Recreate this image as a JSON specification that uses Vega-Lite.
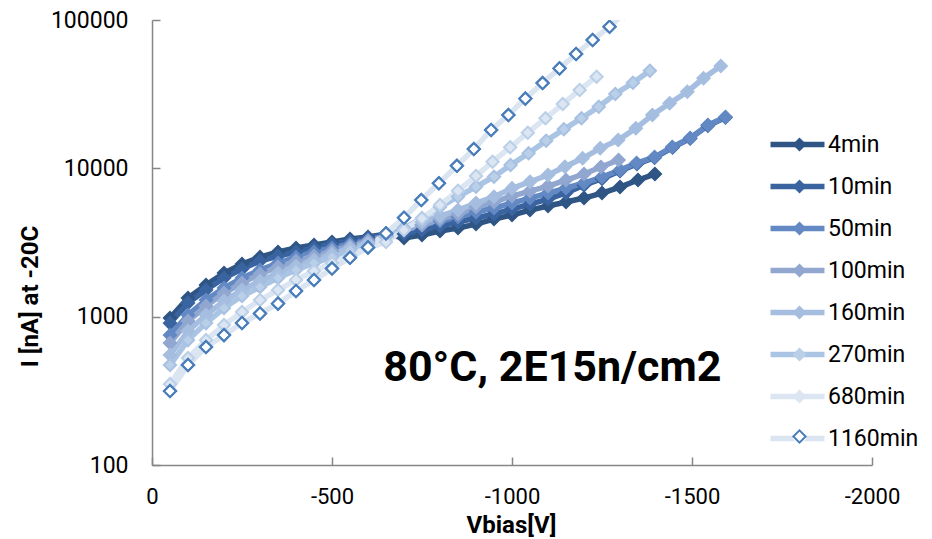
{
  "$schema": "https://vega.github.io/schema/vega-lite/v6.json",
  "width": 720,
  "height": 445,
  "autosize": {"type": "none"},
  "padding": {"left": 152, "top": 20, "right": 60, "bottom": 74},
  "background": "white",
  "config": {"view": {"stroke": null}, "font": "Roboto"},
  "data": {"values": [
    {"s":"4min","V":-50,"I":979},{"s":"4min","V":-100,"I":1335},{"s":"4min","V":-150,"I":1634},{"s":"4min","V":-200,"I":1968},{"s":"4min","V":-250,"I":2263},{"s":"4min","V":-300,"I":2523},{"s":"4min","V":-350,"I":2727},{"s":"4min","V":-400,"I":2901},{"s":"4min","V":-450,"I":3040},{"s":"4min","V":-500,"I":3184},{"s":"4min","V":-550,"I":3336},{"s":"4min","V":-600,"I":3441},{"s":"4min","V":-650,"I":3606},{"s":"4min","V":-700,"I":3388},{"s":"4min","V":-750,"I":3550},{"s":"4min","V":-800,"I":3778},{"s":"4min","V":-850,"I":3958},{"s":"4min","V":-900,"I":4210},{"s":"4min","V":-950,"I":4550},{"s":"4min","V":-1000,"I":4843},{"s":"4min","V":-1050,"I":5233},{"s":"4min","V":-1100,"I":5569},{"s":"4min","V":-1150,"I":5925},{"s":"4min","V":-1200,"I":6305},{"s":"4min","V":-1250,"I":6814},{"s":"4min","V":-1300,"I":7478},{"s":"4min","V":-1350,"I":8340},{"s":"4min","V":-1397,"I":9153},
    {"s":"10min","V":-50,"I":905},{"s":"10min","V":-100,"I":1235},{"s":"10min","V":-150,"I":1511},{"s":"10min","V":-200,"I":1821},{"s":"10min","V":-250,"I":2094},{"s":"10min","V":-300,"I":2371},{"s":"10min","V":-350,"I":2563},{"s":"10min","V":-400,"I":2727},{"s":"10min","V":-450,"I":2901},{"s":"10min","V":-500,"I":3087},{"s":"10min","V":-550,"I":3234},{"s":"10min","V":-600,"I":3388},{"s":"10min","V":-650,"I":3550},{"s":"10min","V":-700,"I":3606},{"s":"10min","V":-750,"I":3837},{"s":"10min","V":-800,"I":4082},{"s":"10min","V":-850,"I":4344},{"s":"10min","V":-900,"I":4622},{"s":"10min","V":-950,"I":4918},{"s":"10min","V":-1000,"I":5316},{"s":"10min","V":-1050,"I":5745},{"s":"10min","V":-1100,"I":6209},{"s":"10min","V":-1150,"I":6814},{"s":"10min","V":-1200,"I":7700},{"s":"10min","V":-1250,"I":8500},{"s":"10min","V":-1300,"I":9600},{"s":"10min","V":-1347,"I":10700},{"s":"10min","V":-1396,"I":11800},{"s":"10min","V":-1446,"I":13800},{"s":"10min","V":-1495,"I":15900},{"s":"10min","V":-1544,"I":19400},{"s":"10min","V":-1593,"I":22000},
    {"s":"50min","V":-50,"I":751},{"s":"50min","V":-100,"I":1025},{"s":"50min","V":-150,"I":1294},{"s":"50min","V":-200,"I":1559},{"s":"50min","V":-250,"I":1821},{"s":"50min","V":-300,"I":2062},{"s":"50min","V":-350,"I":2298},{"s":"50min","V":-400,"I":2523},{"s":"50min","V":-450,"I":2727},{"s":"50min","V":-500,"I":2901},{"s":"50min","V":-550,"I":3087},{"s":"50min","V":-600,"I":3284},{"s":"50min","V":-650,"I":3495},{"s":"50min","V":-700,"I":3837},{"s":"50min","V":-750,"I":4147},{"s":"50min","V":-800,"I":4412},{"s":"50min","V":-850,"I":4694},{"s":"50min","V":-900,"I":5074},{"s":"50min","V":-950,"I":5399},{"s":"50min","V":-1000,"I":5834},{"s":"50min","V":-1050,"I":6305},{"s":"50min","V":-1100,"I":6814},{"s":"50min","V":-1150,"I":7364},{"s":"50min","V":-1200,"I":7961},{"s":"50min","V":-1250,"I":8737},{"s":"50min","V":-1300,"I":9739},{"s":"50min","V":-1346,"I":10857},{"s":"50min","V":-1396,"I":11918},{"s":"50min","V":-1445,"I":13918},{"s":"50min","V":-1495,"I":16007},{"s":"50min","V":-1544,"I":19588},{"s":"50min","V":-1593,"I":22174},
    {"s":"100min","V":-50,"I":664},{"s":"100min","V":-100,"I":934},{"s":"100min","V":-150,"I":1179},{"s":"100min","V":-200,"I":1443},{"s":"100min","V":-250,"I":1685},{"s":"100min","V":-300,"I":1938},{"s":"100min","V":-350,"I":2160},{"s":"100min","V":-400,"I":2371},{"s":"100min","V":-450,"I":2563},{"s":"100min","V":-500,"I":2769},{"s":"100min","V":-550,"I":2992},{"s":"100min","V":-600,"I":3234},{"s":"100min","V":-650,"I":3495},{"s":"100min","V":-700,"I":3837},{"s":"100min","V":-750,"I":4147},{"s":"100min","V":-800,"I":4550},{"s":"100min","V":-850,"I":4918},{"s":"100min","V":-900,"I":5483},{"s":"100min","V":-950,"I":5925},{"s":"100min","V":-1000,"I":6505},{"s":"100min","V":-1050,"I":7029},{"s":"100min","V":-1100,"I":7597},{"s":"100min","V":-1150,"I":8340},{"s":"100min","V":-1200,"I":9153},{"s":"100min","V":-1247,"I":10204},{"s":"100min","V":-1296,"I":11376},
    {"s":"160min","V":-50,"I":551},{"s":"160min","V":-100,"I":800},{"s":"160min","V":-150,"I":1025},{"s":"160min","V":-200,"I":1274},{"s":"160min","V":-250,"I":1511},{"s":"160min","V":-300,"I":1738},{"s":"160min","V":-350,"I":1968},{"s":"160min","V":-400,"I":2194},{"s":"160min","V":-450,"I":2408},{"s":"160min","V":-500,"I":2643},{"s":"160min","V":-550,"I":2901},{"s":"160min","V":-600,"I":3136},{"s":"160min","V":-650,"I":3441},{"s":"160min","V":-700,"I":3958},{"s":"160min","V":-750,"I":4344},{"s":"160min","V":-800,"I":4768},{"s":"160min","V":-850,"I":5233},{"s":"160min","V":-900,"I":5834},{"s":"160min","V":-950,"I":6435},{"s":"160min","V":-1000,"I":7329},{"s":"160min","V":-1050,"I":8121},{"s":"160min","V":-1100,"I":9011},{"s":"160min","V":-1147,"I":10252},{"s":"160min","V":-1196,"I":11679},{"s":"160min","V":-1245,"I":13642},{"s":"160min","V":-1295,"I":15520},{"s":"160min","V":-1344,"I":18609},{"s":"160min","V":-1390,"I":22875},{"s":"160min","V":-1438,"I":27438},{"s":"160min","V":-1487,"I":32847},{"s":"160min","V":-1532,"I":40450},{"s":"160min","V":-1580,"I":48960},
    {"s":"270min","V":-50,"I":472},{"s":"270min","V":-100,"I":695},{"s":"270min","V":-150,"I":905},{"s":"270min","V":-200,"I":1143},{"s":"270min","V":-250,"I":1377},{"s":"270min","V":-300,"I":1583},{"s":"270min","V":-350,"I":1821},{"s":"270min","V":-400,"I":2062},{"s":"270min","V":-450,"I":2298},{"s":"270min","V":-500,"I":2523},{"s":"270min","V":-550,"I":2812},{"s":"270min","V":-600,"I":3087},{"s":"270min","V":-650,"I":3441},{"s":"270min","V":-700,"I":3958},{"s":"270min","V":-750,"I":4622},{"s":"270min","V":-800,"I":5483},{"s":"270min","V":-850,"I":6435},{"s":"270min","V":-900,"I":7512},{"s":"270min","V":-950,"I":8780},{"s":"270min","V":-996,"I":10527},{"s":"270min","V":-1046,"I":12622},{"s":"270min","V":-1095,"I":15357},{"s":"270min","V":-1144,"I":18323},{"s":"270min","V":-1193,"I":21740},{"s":"270min","V":-1241,"I":26025},{"s":"270min","V":-1287,"I":31700},{"s":"270min","V":-1336,"I":37780},{"s":"270min","V":-1383,"I":45500},
    {"s":"680min","V":-50,"I":351},{"s":"680min","V":-100,"I":526},{"s":"680min","V":-150,"I":695},{"s":"680min","V":-200,"I":878},{"s":"680min","V":-250,"I":1074},{"s":"680min","V":-300,"I":1295},{"s":"680min","V":-350,"I":1511},{"s":"680min","V":-400,"I":1770},{"s":"680min","V":-450,"I":2030},{"s":"680min","V":-500,"I":2298},{"s":"680min","V":-550,"I":2600},{"s":"680min","V":-600,"I":2901},{"s":"680min","V":-650,"I":3184},{"s":"680min","V":-700,"I":3837},{"s":"680min","V":-750,"I":4600},{"s":"680min","V":-800,"I":5660},{"s":"680min","V":-850,"I":7063},{"s":"680min","V":-900,"I":8875},{"s":"680min","V":-946,"I":11080},{"s":"680min","V":-995,"I":13856},{"s":"680min","V":-1044,"I":17380},{"s":"680min","V":-1093,"I":21740},{"s":"680min","V":-1141,"I":27140},{"s":"680min","V":-1188,"I":33740},{"s":"680min","V":-1235,"I":41470},
    {"s":"1160min","V":-50,"I":315},{"s":"1160min","V":-100,"I":472},{"s":"1160min","V":-150,"I":624},{"s":"1160min","V":-200,"I":751},{"s":"1160min","V":-250,"I":906},{"s":"1160min","V":-300,"I":1050},{"s":"1160min","V":-350,"I":1225},{"s":"1160min","V":-400,"I":1489},{"s":"1160min","V":-450,"I":1766},{"s":"1160min","V":-500,"I":2110},{"s":"1160min","V":-550,"I":2495},{"s":"1160min","V":-600,"I":2931},{"s":"1160min","V":-650,"I":3645},{"s":"1160min","V":-700,"I":4645},{"s":"1160min","V":-748,"I":6110},{"s":"1160min","V":-797,"I":7925},{"s":"1160min","V":-847,"I":10400},{"s":"1160min","V":-894,"I":13490},{"s":"1160min","V":-942,"I":18130},{"s":"1160min","V":-990,"I":22860},{"s":"1160min","V":-1037,"I":29510},{"s":"1160min","V":-1085,"I":37570},{"s":"1160min","V":-1132,"I":47200},{"s":"1160min","V":-1178,"I":58990},{"s":"1160min","V":-1224,"I":73300},{"s":"1160min","V":-1271,"I":90100},{"s":"1160min","V":-1313,"I":112000}
  ]},
  "layer": [
    {
      "mark": {"type": "line", "strokeWidth": 5.5, "clip": true},
      "encoding": {
        "x": {"field": "V", "type": "quantitative",
          "scale": {"domain": [0, -2000], "nice": false, "zero": false},
          "axis": {"values": [0, -500, -1000, -1500, -2000], "labelExpr": "datum.value == 0 ? '0' : '-' + abs(datum.value)",
            "title": "Vbias[V]", "titleFont": "Roboto", "titleFontSize": 24, "titleFontWeight": "bold", "titleColor": "#000",
            "titleX": 359, "titleY": 60, "titleBaseline": "middle",
            "labelFont": "Roboto", "labelFontSize": 22, "labelColor": "#000", "labelPadding": 29, "labelFlush": false,
            "domainColor": "#868686", "domainWidth": 1.5, "tickColor": "#868686", "tickWidth": 1.5, "tickSize": -8, "grid": false}},
        "y": {"field": "I", "type": "quantitative",
          "scale": {"type": "log", "domain": [100, 100000], "nice": false},
          "axis": {"values": [100, 1000, 10000, 100000], "format": "d",
            "title": "I [nA] at -20C", "titleFont": "Roboto", "titleFontSize": 24, "titleFontWeight": "bold", "titleColor": "#000",
            "titleX": -122, "titleY": 276, "titleBaseline": "middle", "titleAlign": "center", "titleAngle": -90,
            "labelFont": "Roboto", "labelFontSize": 23, "labelColor": "#000", "labelPadding": 32, "labelFlush": false,
            "domainColor": "#868686", "domainWidth": 1.5, "tickColor": "#868686", "tickWidth": 1.5, "tickSize": -8, "grid": false}},
        "color": {"field": "s", "type": "nominal",
          "scale": {"domain": ["4min","10min","50min","100min","160min","270min","680min","1160min"],
                    "range": ["#2f5584","#3a64a0","#6389c4","#91a7d0","#a5bee0","#aac4e4","#dce6f2","#dbe5f1"]},
          "legend": {"orient": "none", "legendX": 634, "legendY": 113, "direction": "vertical", "title": null, "padding": 0,
            "symbolType": "M-4,0H4", "symbolSize": 182, "symbolStrokeWidth": 5.5, "labelOffset": 19,
            "labelFont": "Roboto", "labelFontSize": 23, "labelColor": "#000", "rowPadding": 18}}
      }
    },
    {
      "mark": {"type": "point", "shape": "diamond", "filled": true, "size": 150, "strokeWidth": 2, "opacity": 1, "clip": true},
      "encoding": {
        "x": {"field": "V", "type": "quantitative"},
        "y": {"field": "I", "type": "quantitative"},
        "color": {"field": "s", "type": "nominal",
          "scale": {"domain": ["4min","10min","50min","100min","160min","270min","680min","1160min"],
                    "range": ["#2f5584","#3a64a0","#6389c4","#91a7d0","#a5bee0","#bacfe8","#dce6f2","#ffffff"]},
          "legend": {"orient": "none", "legendX": 636, "legendY": 113, "direction": "vertical", "title": null, "padding": 0,
            "symbolType": "diamond", "symbolSize": 196, "labelOffset": 19,
            "labelExpr": "' '", "labelFont": "Roboto", "labelFontSize": 23, "rowPadding": 18}},
        "stroke": {"field": "s", "type": "nominal", "legend": null,
          "scale": {"domain": ["4min","10min","50min","100min","160min","270min","680min","1160min"],
                    "range": ["#2f5584","#3a64a0","#6389c4","#91a7d0","#a5bee0","#a8c1e2","#bacfe8","#4a7ebb"]}}
      }
    },
    {
      "transform": [{"filter": "datum.s == '1160min'"}],
      "mark": {"type": "point", "shape": "diamond", "filled": false, "size": 150, "strokeWidth": 2, "opacity": 1, "clip": true},
      "encoding": {
        "x": {"field": "V", "type": "quantitative"},
        "y": {"field": "I", "type": "quantitative"},
        "color": {"field": "s", "type": "nominal",
          "scale": {"domain": ["1160min"], "range": ["#4a7ebb"]},
          "legend": {"orient": "none", "legendX": 636, "legendY": 405, "direction": "vertical", "title": null, "padding": 0,
            "symbolType": "diamond", "symbolSize": 150, "symbolStrokeWidth": 2, "labelOffset": 19,
            "labelExpr": "' '", "labelFont": "Roboto", "labelFontSize": 23}}
      }
    },
    {
      "data": {"values": [{}]},
      "mark": {"type": "text", "text": "80°C, 2E15n/cm2", "font": "Roboto", "fontWeight": "bold", "fontSize": 43, "align": "center", "baseline": "middle", "color": "#000"},
      "encoding": {"x": {"datum": -1112}, "y": {"datum": 450}}
    }
  ],
  "resolve": {"scale": {"color": "independent"}, "legend": {"color": "independent"}}
}
